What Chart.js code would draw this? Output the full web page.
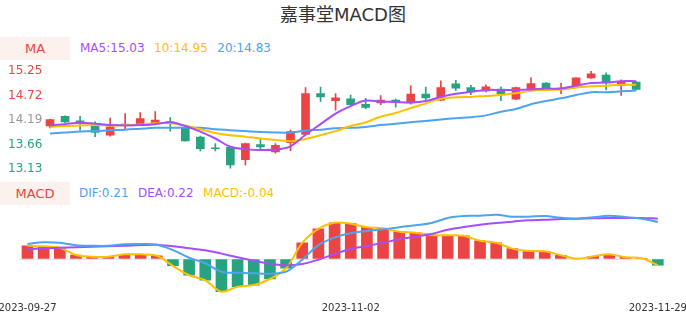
<!DOCTYPE html>
<html>
<head>
<meta charset="utf-8">
<script src="https://cdn.jsdelivr.net/npm/chart.js@4.4.0/dist/chart.umd.min.js"></script>
<style>
  body { margin: 0; background: #fff; font-family: "DejaVu Sans", "Noto Sans CJK SC", sans-serif; }
  #wrap { position: relative; width: 686px; height: 320px; overflow: hidden; }
  .title { position: absolute; left: 0; top: 4px; width: 686px; line-height: 22px; text-align: center; font-size: 18px; color: #333; font-family: "DejaVu Sans", "Noto Sans CJK SC", sans-serif; }
  .tag { position: absolute; left: 0; width: 70px; height: 23px; line-height: 23px; background: #fdf1ed; color: #eb4444; text-align: center; font-size: 13px; }
  .legend { position: absolute; font-size: 12px; line-height: 23px; white-space: nowrap; }
  .legend span { margin-right: 9.5px; }
  canvas { position: absolute; left: 0; }
</style>
</head>
<body>
<div id="wrap">
  <div class="title">嘉事堂MACD图</div>

  <div class="tag" style="top:37px">MA</div>
  <div class="legend" style="top:37px; left:80px">
    <span style="color:#a64dff">MA5:15.03</span><span style="color:#ffc000">10:14.95</span><span style="color:#4da3f2">20:14.83</span>
  </div>

  <div class="tag" style="top:182px">MACD</div>
  <div class="legend" style="top:182px; left:79px">
    <span style="color:#4da3f2">DIF:0.21</span><span style="color:#a64dff">DEA:0.22</span><span style="color:#ffc000">MACD:-0.04</span>
  </div>

  <canvas id="kline" width="686" height="120" style="top:60px"></canvas>
  <canvas id="macd" width="686" height="120" style="top:200px"></canvas>
</div>

<script>
// trading days
const dates = [
  '2023-09-27','2023-09-28',
  '2023-10-09','2023-10-10','2023-10-11','2023-10-12','2023-10-13',
  '2023-10-16','2023-10-17','2023-10-18','2023-10-19','2023-10-20',
  '2023-10-23','2023-10-24','2023-10-25','2023-10-26','2023-10-27',
  '2023-10-30','2023-10-31','2023-11-01','2023-11-02','2023-11-03',
  '2023-11-06','2023-11-07','2023-11-08','2023-11-09','2023-11-10',
  '2023-11-13','2023-11-14','2023-11-15','2023-11-16','2023-11-17',
  '2023-11-20','2023-11-21','2023-11-22','2023-11-23','2023-11-24',
  '2023-11-27','2023-11-28','2023-11-29'
];
const shownDates = ['2023-09-27', '2023-11-02', '2023-11-29'];

// candles
const open  = [14.06,14.27,14.17,14.12,13.86,14.07,14.09,14.12,14.15,14.02,13.82,13.59,13.60,13.33,13.66,13.50,13.70,13.88,14.76,14.61,
               14.65,14.53,14.56,14.62,14.56,14.75,14.62,14.97,14.89,14.82,14.86,14.64,14.86,14.99,14.86,14.92,15.10,15.16,14.94,15.01];
const close = [14.20,14.15,14.11,13.92,14.04,14.10,14.22,14.19,14.13,13.74,13.57,13.57,13.22,13.68,13.61,13.64,13.94,14.76,14.69,14.67,
               14.52,14.46,14.62,14.57,14.75,14.67,14.89,14.88,14.80,14.91,14.75,14.89,14.98,14.88,14.88,15.10,15.19,15.01,15.01,14.85];
const high  = [14.21,14.28,14.27,14.15,14.23,14.33,14.35,14.37,14.24,14.05,13.84,13.68,13.62,13.69,13.77,13.68,13.97,14.89,14.90,14.76,
               14.73,14.66,14.72,14.64,14.93,14.90,15.04,15.05,14.94,14.95,14.91,14.90,15.10,15.00,14.99,15.10,15.25,15.21,15.06,15.02];
const low   = [14.02,14.13,13.97,13.83,13.84,14.00,14.08,14.12,13.95,13.73,13.52,13.52,13.15,13.22,13.57,13.47,13.52,13.86,14.59,14.40,
               14.51,14.43,14.52,14.47,14.53,14.63,14.61,14.83,14.74,14.80,14.61,14.63,14.85,14.87,14.76,14.92,15.09,14.84,14.72,14.84];

// moving averages
const ma5  = [14.07,14.10,14.13,14.11,14.08,14.07,14.08,14.10,14.14,14.06,13.94,13.79,13.61,13.56,13.54,13.55,13.62,13.87,14.10,14.33,
              14.49,14.61,14.59,14.58,14.57,14.60,14.69,14.76,14.80,14.84,14.84,14.84,14.85,14.87,14.87,14.93,14.99,15.00,15.03,15.03];
const ma10 = [14.04,14.06,14.07,14.08,14.07,14.08,14.09,14.12,14.12,14.07,13.99,13.91,13.86,13.83,13.79,13.76,13.73,13.78,13.86,13.95,
              14.06,14.14,14.26,14.34,14.45,14.55,14.65,14.68,14.69,14.71,14.73,14.77,14.82,14.84,14.85,14.89,14.92,14.93,14.95,14.95];
const ma20 = [13.90,13.92,13.94,13.95,13.97,13.98,14.00,14.02,14.02,14.03,14.02,13.99,13.97,13.95,13.93,13.92,13.92,13.96,13.98,14.01,
              14.02,14.04,14.08,14.11,14.14,14.17,14.20,14.23,14.25,14.29,14.37,14.43,14.53,14.60,14.66,14.73,14.79,14.79,14.81,14.83];
const yTicks = [13.13, 13.66, 14.19, 14.72, 15.25];

// MACD
const macdHist = [0.074,0.071,0.063,0.022,0.013,0.013,0.026,0.026,0.018,-0.038,-0.090,-0.119,-0.183,-0.155,-0.146,-0.112,-0.052,0.090,0.169,0.203,
                  0.198,0.178,0.172,0.153,0.147,0.134,0.133,0.130,0.102,0.091,0.058,0.045,0.043,0.021,0.002,0.015,0.026,0.010,0.004,-0.034];
const dif = [0.084,0.094,0.091,0.077,0.074,0.074,0.082,0.084,0.080,0.050,0.007,-0.024,-0.071,-0.077,-0.080,-0.082,-0.071,-0.004,0.078,0.120,
             0.144,0.157,0.166,0.178,0.189,0.202,0.230,0.241,0.242,0.248,0.237,0.237,0.241,0.231,0.226,0.234,0.242,0.235,0.226,0.207];
const dea = [0.054,0.060,0.063,0.066,0.069,0.071,0.074,0.078,0.080,0.071,0.060,0.049,0.030,0.010,-0.010,-0.026,-0.035,-0.028,-0.004,0.028,
             0.056,0.073,0.091,0.110,0.125,0.140,0.164,0.179,0.192,0.202,0.209,0.217,0.220,0.224,0.226,0.228,0.230,0.230,0.230,0.226];

const RED = '#eb4444', GREEN = '#28a380';
const PURPLE = '#a64dff', YELLOW = '#ffc000', BLUE = '#4da3f2';

Chart.defaults.font.family = '"DejaVu Sans", sans-serif';
Chart.defaults.animation = false;

const candleColors = open.map((o, i) => close[i] >= o ? RED : GREEN);

function tickColor(v) {
  if (v > 14.2) return RED;
  if (v < 14.18) return GREEN;
  return '#999';
}

function maLine(data, color) {
  return { type: 'line', data: data, borderColor: color, borderWidth: 2, pointRadius: 0, tension: 0.35, order: 0 };
}

new Chart(document.getElementById('kline'), {
  type: 'bar',
  data: {
    labels: dates,
    datasets: [
      maLine(ma5, PURPLE),
      maLine(ma10, YELLOW),
      maLine(ma20, BLUE),
      {
        type: 'bar',
        data: open.map((o, i) => [o, close[i]]),
        backgroundColor: candleColors,
        barThickness: 8,
        grouped: false,
        order: 1
      },
      {
        type: 'bar',
        data: low.map((l, i) => [l, high[i]]),
        backgroundColor: candleColors,
        barThickness: 1,
        grouped: false,
        order: 2
      }
    ]
  },
  options: {
    responsive: false,
    devicePixelRatio: 1,
    layout: { padding: { left: 8, right: 42.3, top: 11, bottom: 11 } },
    plugins: { legend: { display: false }, tooltip: { enabled: false } },
    scales: {
      x: { display: false },
      y: {
        min: 13.13,
        max: 15.25,
        afterBuildTicks: (axis) => { axis.ticks = yTicks.map(v => ({ value: v })); },
        afterFit: (axis) => { axis.width = 34.5; },
        grid: { display: false, drawTicks: false },
        border: { display: false },
        ticks: {
          crossAlign: 'far',
          padding: 0,
          font: { size: 12 },
          color: (ctx) => tickColor(ctx.tick.value),
          callback: (v) => Number(v).toFixed(2)
        }
      }
    }
  }
});

new Chart(document.getElementById('macd'), {
  type: 'bar',
  data: {
    labels: dates,
    datasets: [
      { type: 'line', data: dif, borderColor: BLUE, borderWidth: 2, pointRadius: 0, tension: 0.35, order: 0 },
      { type: 'line', data: dea, borderColor: PURPLE, borderWidth: 2, pointRadius: 0, tension: 0.35, order: 0 },
      { type: 'line', data: macdHist, borderColor: YELLOW, borderWidth: 2, pointRadius: 0, tension: 0.35, order: 0 },
      {
        type: 'bar',
        data: macdHist,
        backgroundColor: macdHist.map(v => v >= 0 ? RED : GREEN),
        barThickness: 11,
        order: 1
      }
    ]
  },
  options: {
    responsive: false,
    devicePixelRatio: 1,
    layout: { padding: { left: 19.4, right: 20.1, top: 5, bottom: 0 } },
    plugins: { legend: { display: false }, tooltip: { enabled: false } },
    scales: {
      x: {
        grid: { display: false, drawTicks: false },
        border: { display: false },
        ticks: {
          autoSkip: false,
          maxRotation: 0,
          minRotation: 0,
          padding: 7,
          color: '#333',
          font: { size: 10 },
          callback: (v, i) => shownDates.includes(dates[i]) ? dates[i] : ''
        },
        afterFit: (s) => { s.height = 25; s.paddingLeft = 0; s.paddingRight = 0; }
      },
      y: {
        min: -0.2016,
        max: 0.3024,
        afterBuildTicks: (axis) => { axis.ticks = [{ value: 0 }]; },
        afterFit: (axis) => { axis.width = 0; },
        ticks: { display: false },
        grid: { color: '#e4e4e4', drawTicks: false },
        border: { display: false }
      }
    }
  }
});
</script>
</body>
</html>
